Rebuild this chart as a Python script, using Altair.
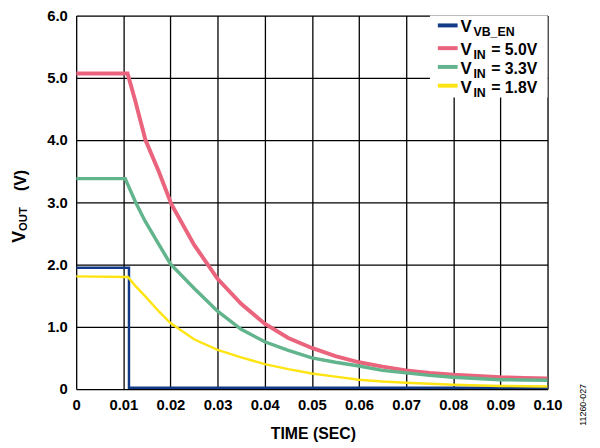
import altair as alt
import pandas as pd

# ---- data ----
x_ticks = [0, 0.01, 0.02, 0.03, 0.04, 0.05, 0.06, 0.07, 0.08, 0.09, 0.10]
y_ticks = [0, 1, 2, 3, 4, 5, 6]

vb_en_t = [0, 0.0112, 0.0112, 0.10]
vb_en_v = [1.95, 1.95, 0.02, 0.02]

vin50_t = [0, 0.0109, 0.0125, 0.0147, 0.0175, 0.0202, 0.025, 0.03, 0.035, 0.04, 0.045,
           0.05, 0.055, 0.06, 0.065, 0.07, 0.075, 0.08, 0.085, 0.09, 0.095, 0.10]
vin50_v = [5.07, 5.07, 4.64, 4.0, 3.5, 2.97, 2.32, 1.77, 1.37, 1.05, 0.82,
           0.66, 0.53, 0.43, 0.36, 0.30, 0.26, 0.23, 0.21, 0.19, 0.18, 0.17]

vin33_t = [0, 0.0104, 0.0126, 0.0146, 0.0175, 0.02, 0.025, 0.03, 0.035, 0.04, 0.045,
           0.05, 0.055, 0.06, 0.065, 0.07, 0.075, 0.08, 0.085, 0.09, 0.095, 0.10]
vin33_v = [3.38, 3.38, 3.0, 2.70, 2.33, 2.01, 1.62, 1.25, 0.96, 0.76, 0.62,
           0.50, 0.43, 0.37, 0.30, 0.26, 0.22, 0.19, 0.17, 0.15, 0.145, 0.14]

vin18_t = [0, 0.011, 0.0125, 0.015, 0.0175, 0.02, 0.025, 0.03, 0.035, 0.04, 0.045,
           0.05, 0.055, 0.06, 0.065, 0.07, 0.08, 0.09, 0.10]
vin18_v = [1.81, 1.80, 1.66, 1.46, 1.25, 1.06, 0.80, 0.63, 0.51, 0.40, 0.32,
           0.25, 0.20, 0.15, 0.12, 0.10, 0.07, 0.05, 0.04]

series_colors = ["#123a86", "#e9647c", "#62b48c", "#ffe414"]
legend_main = ["V", "V", "V", "V"]
legend_sub = ["VB_EN", "IN", "IN", "IN"]
legend_rest = ["", "= 5.0V", "= 3.3V", "= 1.8V"]

FONT = "Liberation Sans"
W, H = 477, 378

x_scale = alt.Scale(domain=[0, 0.10], nice=False, zero=False)
y_scale = alt.Scale(domain=[0, 6], nice=False)

x_axis = alt.Axis(values=x_ticks, title=None, grid=True, ticks=False, domain=False,
                  labelExpr="datum.value == 0 ? '0' : format(datum.value, '.2f')",
                  labelFont=FONT, labelFontSize=15, labelFontWeight="bold",
                  labelColor="black", labelPadding=9, labelFlush=False,
                  gridColor="black", gridWidth=1.3, gridOpacity=1)
y_axis = alt.Axis(values=y_ticks, title=None, grid=True, ticks=False, domain=False,
                  labelExpr="datum.value == 0 ? '0' : format(datum.value, '.1f')",
                  labelFont=FONT, labelFontSize=15, labelFontWeight="bold",
                  labelColor="black", labelPadding=9, labelFlush=False,
                  gridColor="black", gridWidth=1.3, gridOpacity=1)


def line_layer(t, v, color, width):
    df = pd.DataFrame({"t": t, "v": v, "i": list(range(len(t)))})
    return alt.Chart(df).mark_line(color=color, strokeWidth=width, clip=True).encode(
        x=alt.X("t:Q", scale=x_scale, axis=x_axis),
        y=alt.Y("v:Q", scale=y_scale, axis=y_axis),
        order="i:Q",
    )


one = pd.DataFrame({"a": [0]})


def text_layer(txt, x, y, size, angle=0, weight="bold", align="left", baseline="alphabetic"):
    return alt.Chart(one).mark_text(text=txt, font=FONT, fontSize=size, fontWeight=weight,
                                    color="black", align=align, baseline=baseline,
                                    angle=angle).encode(x=alt.value(x), y=alt.value(y))


layers = [
    line_layer(vb_en_t, vb_en_v, series_colors[0], 2.5),
    line_layer(vin50_t, vin50_v, series_colors[1], 4),
    line_layer(vin33_t, vin33_v, series_colors[2], 3.5),
    line_layer(vin18_t, vin18_v, series_colors[3], 2.5),
]

# legend box
layers.append(alt.Chart(one).mark_rect(color="white").encode(
    x=alt.value(358), x2=alt.value(W), y=alt.value(0), y2=alt.value(83)))

row_base = [17, 40, 59, 78]
for k in range(4):
    b = row_base[k]
    layers.append(alt.Chart(one).mark_rule(color=series_colors[k], strokeWidth=4).encode(
        x=alt.value(366), x2=alt.value(386), y=alt.value(b - 7)))
    layers.append(text_layer(legend_main[k], 389, b, 17))
    layers.append(text_layer(legend_sub[k], 402, b + 4, 12.5))
    if legend_rest[k]:
        layers.append(text_layer(legend_rest[k], 420, b, 16))

# axis titles
layers.append(text_layer("TIME (SEC)", 240, 424, 16, align="center", baseline="middle"))
layers.append(text_layer("V", -57, 224, 18, angle=270, align="center", baseline="middle"))
layers.append(text_layer("OUT", -53, 206, 11.5, angle=270, align="center", baseline="middle"))
layers.append(text_layer("(V)", -56, 167, 16, angle=270, align="center", baseline="middle"))
layers.append(text_layer("11260-027", 513, 394, 9, angle=270, weight="normal",
                         align="center", baseline="middle"))

chart = alt.layer(*layers).properties(
    width=W, height=H,
    autosize=alt.AutoSizeParams(type="none"),
    padding={"left": 69, "top": 5, "right": 45, "bottom": 56},
).configure_view(stroke="black", strokeWidth=2).configure(background="white")

chart.save("out.html", embed_options={"renderer": "svg", "actions": False})
